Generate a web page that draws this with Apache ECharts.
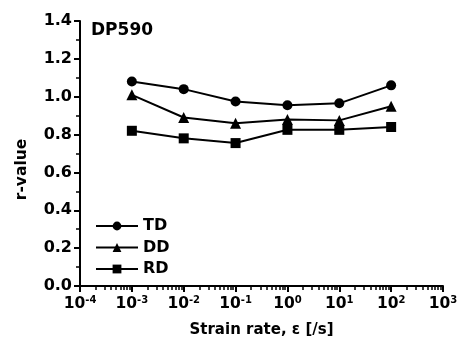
<!DOCTYPE html>
<html>
<head>
<meta charset="utf-8">
<script src="https://cdn.jsdelivr.net/npm/echarts@6/dist/echarts.min.js"></script>
<style>
html, body { margin: 0; padding: 0; background: #fff; }
#main { width: 463px; height: 349px; }
</style>
</head>
<body>
<div id="main"></div>
<script>
var rates = [1e-3, 1e-2, 1e-1, 1, 10, 100]
var td = [1.08, 1.04, 0.975, 0.955, 0.965, 1.06]
var dd = [1.01, 0.89, 0.86, 0.88, 0.875, 0.95]
var rd = [0.82, 0.78, 0.755, 0.825, 0.825, 0.84]
var names = ['TD', 'DD', 'RD']
var symbols = ['circle', 'triangle', 'rect']

var minorVals = []
for (var k = -4; k < 3; k++) {
	for (var m = 2; m < 10; m++) {
		minorVals.push(m * Math.pow(10, k))
	}
}

function pairs(ys) {
	var out = []
	for (var i = 0; i < rates.length; i++) {
		out.push([rates[i], ys[i]])
	}
	return out
}

var font = 'DejaVu Sans'
var myChart = echarts.init(document.getElementById('main'))
var series = []
var all = [td, dd, rd]
for (var i = 0; i < names.length; i++) {
	series.push({
		name : names[i],
		type : 'line',
		xAxisIndex : 0,
		symbol : symbols[i],
		symbolSize : i == 1 ? 11 : 10,
		lineStyle : { color : '#000', width : 2 },
		itemStyle : { color : '#000' },
		data : pairs(all[i])
	})
}

var option = {
	animation : false,
	title : {
		text : 'DP590',
		left : 86,
		top : 17,
		textStyle : { fontFamily : font, fontSize : 17, fontWeight : 'bold', color : '#000' }
	},
	legend : {
		orient : 'vertical',
		left : 95,
		top : 217,
		padding : 0,
		itemWidth : 42,
		itemHeight : 11,
		itemGap : 3.5,
		textStyle : { fontFamily : font, fontSize : 16, fontWeight : 'bold', color : '#000', lineHeight : 18 },
		data : names
	},
	grid : { left : 80, right : 20, top : 21, bottom : 63 },
	xAxis : [ {
		type : 'log',
		logBase : 10,
		min : 1e-4,
		max : 1e3,
		name : 'Strain rate, ε [/s]',
		nameLocation : 'middle',
		nameGap : 37,
		nameTextStyle : { fontFamily : font, fontSize : 15, fontWeight : 'bold', color : '#000' },
		axisLine : { lineStyle : { color : '#000', width : 2 } },
		axisTick : { inside : false, length : 6, lineStyle : { color : '#000', width : 2 } },
		splitLine : { show : false },
		axisLabel : {
			margin : 9,
			formatter : function(v) {
				var e = Math.round(Math.log(v) / Math.LN10)
				return '{b|10}{s|' + e + '}'
			},
			rich : {
				b : { fontFamily : font, fontSize : 15.5, fontWeight : 'bold', color : '#000' },
				s : { fontFamily : font, fontSize : 10, fontWeight : 'bold', color : '#000', padding : [0, 0, 8, 0] }
			}
		}
	}, {
		type : 'log',
		logBase : 10,
		min : 1e-4,
		max : 1e3,
		position : 'bottom',
		axisLine : { show : false },
		axisLabel : { show : false },
		splitLine : { show : false },
		axisTick : { customValues : minorVals, length : 4, lineStyle : { color : '#000', width : 1.5 } }
	} ],
	yAxis : [ {
		type : 'value',
		min : 0,
		max : 1.4,
		interval : 0.2,
		name : 'r-value',
		nameLocation : 'middle',
		nameGap : 50,
		nameTextStyle : { fontFamily : font, fontSize : 15.5, fontWeight : 'bold', color : '#000', padding : [0, 32, 0, 0] },
		axisLine : { show : true, lineStyle : { color : '#000', width : 2 } },
		axisTick : { show : true, length : 6, lineStyle : { color : '#000', width : 2 } },
		minorTick : { show : true, splitNumber : 2, length : 4, lineStyle : { color : '#000', width : 1.5 } },
		splitLine : { show : false },
		minorSplitLine : { show : false },
		axisLabel : {
			margin : 8,
			fontFamily : font, fontSize : 16, fontWeight : 'bold', color : '#000',
			formatter : function(v) { return v.toFixed(1) }
		}
	} ],
	series : series
}
myChart.setOption(option)
</script>
</body>
</html>
